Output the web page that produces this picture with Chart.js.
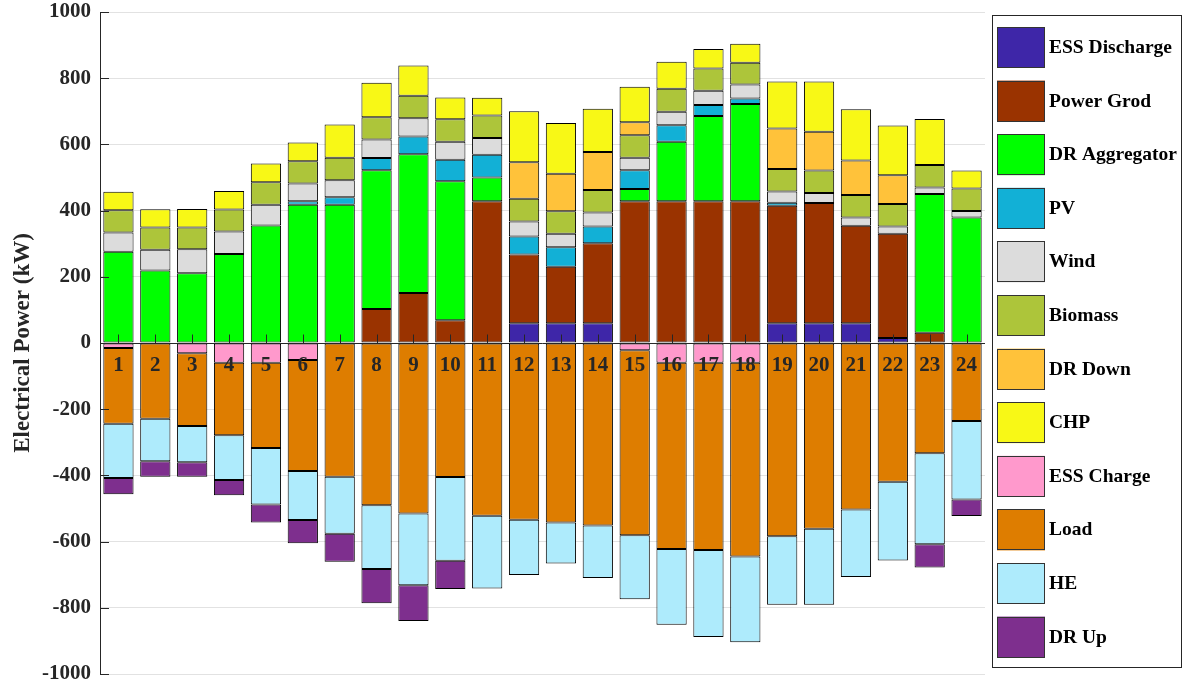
<!DOCTYPE html>
<html>
<head>
<meta charset="utf-8">
<script src="https://cdn.jsdelivr.net/npm/chart.js@4.4.0/dist/chart.umd.min.js"></script>
<style>
  html, body { margin: 0; padding: 0; background: #fff; }
  #wrap { width: 1185px; height: 688px; position: relative; }
</style>
</head>
<body>
<div id="wrap"><canvas id="chart-power"></canvas></div>
<script>
const hours = ['1','2','3','4','5','6','7','8','9','10','11','12','13','14','15','16','17','18','19','20','21','22','23','24'];
const yTicks = [-1000, -800, -600, -400, -200, 0, 200, 400, 600, 800, 1000];

// supply side (kW), stacked upward
const essDischarge = [0, 0, 0, 0, 0, 0, 0, 0, 0, 0, 0, 60, 60, 60, 0, 0, 0, 0, 60, 60, 60, 15, 0, 0];
const powerGrid    = [0, 0, 0, 0, 0, 0, 0, 103, 151, 69, 428, 207, 170, 241, 428, 428, 428, 428, 355, 363, 294, 315, 31, 0];
const drAggregator = [276, 219, 211, 269, 355, 418, 418, 419, 419, 420, 72, 0, 0, 0, 37, 180, 258, 294, 0, 0, 0, 0, 419, 379];
const pv           = [0, 0, 0, 0, 0, 10, 22, 37, 54, 65, 69, 55, 59, 51, 57, 50, 33, 17, 9, 0, 0, 0, 0, 0];
const wind         = [58, 63, 72, 68, 63, 54, 52, 56, 55, 54, 50, 45, 41, 42, 38, 41, 43, 42, 34, 30, 25, 22, 20, 20];
const biomass      = [67, 67, 66, 66, 68, 67, 68, 67, 68, 68, 68, 69, 68, 68, 68, 69, 67, 66, 68, 68, 68, 68, 68, 68];
const drDown       = [0, 0, 0, 0, 0, 0, 0, 0, 0, 0, 0, 110, 113, 115, 39, 0, 0, 0, 122, 117, 104, 87, 0, 0];
const chp          = [56, 55, 56, 56, 56, 57, 100, 104, 91, 66, 54, 154, 154, 131, 107, 82, 59, 57, 142, 152, 155, 150, 139, 54];

// demand side (kW), stacked downward
const essCharge = [-15, 0, -31, -60, -60, -51, 0, 0, 0, 0, 0, 0, 0, 0, -22, -60, -60, -60, 0, 0, 0, 0, 0, 0];
const load      = [-229, -229, -220, -219, -257, -336, -404, -490, -515, -405, -522, -534, -542, -551, -559, -562, -565, -585, -584, -561, -503, -419, -333, -236];
const he        = [-164, -128, -109, -135, -171, -148, -172, -193, -217, -253, -220, -167, -124, -159, -193, -229, -263, -259, -207, -230, -204, -238, -275, -237];
const drUp      = [-49, -47, -44, -46, -54, -70, -85, -103, -108, -85, 0, 0, 0, 0, 0, 0, 0, 0, 0, 0, 0, 0, -70, -50];

const serif = "'Liberation Serif', 'Times New Roman', serif";
const ink = '#262626';

function series(label, values, color) {
  return {
    label: label,
    data: values.map(v => v === 0 ? null : v),
    backgroundColor: color,
    borderColor: '#000',
    borderWidth: 1,
    borderSkipped: false,
    barPercentage: 0.82,
    categoryPercentage: 1
  };
}

// zero line with hour numbers, and inward ticks on the y axis
const axisMarks = {
  id: 'axisMarks',
  afterDatasetsDraw(chart) {
    const {ctx, chartArea, scales: {x, y}} = chart;
    const zeroY = Math.round(y.getPixelForValue(0)) + 0.5;
    ctx.save();
    ctx.strokeStyle = ink;
    ctx.lineWidth = 1;
    ctx.beginPath();
    ctx.moveTo(chartArea.left, zeroY);
    ctx.lineTo(chartArea.right, zeroY);
    hours.forEach((h, i) => {
      const px = Math.round(x.getPixelForValue(i)) + 0.5;
      ctx.moveTo(px, zeroY);
      ctx.lineTo(px, zeroY - 9);
    });
    yTicks.forEach(t => {
      const py = Math.round(y.getPixelForValue(t)) + 0.5;
      ctx.moveTo(chartArea.left, py);
      ctx.lineTo(chartArea.left + 9, py);
    });
    ctx.stroke();

    ctx.fillStyle = ink;
    ctx.font = 'bold 21px ' + serif;
    ctx.textAlign = 'center';
    ctx.textBaseline = 'middle';
    hours.forEach((h, i) => {
      ctx.fillText(h, x.getPixelForValue(i), zeroY + 22);
    });
    ctx.restore();
  }
};

// boxed legend on the right
const boxLegend = {
  id: 'boxLegend',
  afterDraw(chart) {
    const {ctx} = chart;
    const left = 992, top = 15, width = 190, height = 653;
    ctx.save();
    ctx.fillStyle = '#fff';
    ctx.fillRect(left, top, width, height);
    ctx.strokeStyle = ink;
    ctx.lineWidth = 1;
    ctx.strokeRect(left + 0.5, top + 0.5, width - 1, height - 1);
    ctx.font = 'bold 19.5px ' + serif;
    ctx.textAlign = 'left';
    ctx.textBaseline = 'middle';
    chart.data.datasets.forEach((ds, i) => {
      const by = 27 + i * 53.6;
      ctx.fillStyle = ds.backgroundColor;
      ctx.fillRect(997, by, 48, 41);
      ctx.strokeStyle = '#333';
      ctx.strokeRect(997.5, Math.round(by) + 0.5, 47, 40);
      ctx.fillStyle = '#000';
      ctx.fillText(ds.label, 1049, by + 21);
    });
    ctx.restore();
  }
};

const chartPower = document.getElementById('chart-power');

new Chart(chartPower, {
  type: 'bar',
  data: {
    labels: hours,
    datasets: [
      series('ESS Discharge', essDischarge, '#3E26A8'),
      series('Power Grod', powerGrid, '#9A3300'),
      series('DR Aggregator', drAggregator, '#00FF00'),
      series('PV', pv, '#12B0D6'),
      series('Wind', wind, '#DCDCDC'),
      series('Biomass', biomass, '#ADC53A'),
      series('DR Down', drDown, '#FFC23A'),
      series('CHP', chp, '#F8F816'),
      series('ESS Charge', essCharge, '#FF99CC'),
      series('Load', load, '#DE7D00'),
      series('HE', he, '#AEEBFC'),
      series('DR Up', drUp, '#7E2F8E')
    ]
  },
  options: {
    responsive: true,
    maintainAspectRatio: false,
    animation: false,
    layout: {
      padding: {left: 0, right: 200, top: 12, bottom: 14}
    },
    plugins: {
      legend: {display: false},
      tooltip: {enabled: false}
    },
    scales: {
      x: {
        stacked: true,
        display: false
      },
      y: {
        stacked: true,
        min: -1000,
        max: 1000,
        afterFit(scale) {
          scale.width = 100;
          scale.paddingTop = 0;
          scale.paddingBottom = 0;
        },
        afterBuildTicks(scale) { scale.ticks = yTicks.map(v => ({value: v})); },
        grid: {
          color: '#E2E2E2',
          lineWidth: 1,
          drawTicks: false
        },
        border: {display: true, color: ink, width: 1},
        ticks: {
          padding: 9,
          color: ink,
          callback: v => String(v),
          font: {family: serif, size: 21, weight: 'bold', lineHeight: 1}
        },
        title: {
          display: true,
          text: 'Electrical Power (kW)',
          color: ink,
          padding: {top: 9, bottom: 0},
          font: {family: serif, size: 23, weight: 'bold'}
        }
      }
    }
  },
  plugins: [axisMarks, boxLegend]
});
</script>
</body>
</html>
